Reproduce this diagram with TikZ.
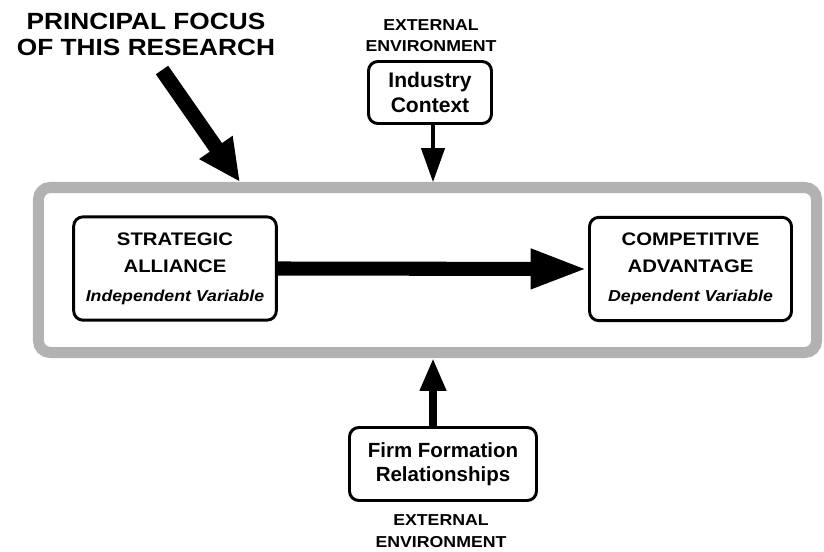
\documentclass[tikz,border=0pt]{standalone}
\usepackage{fontspec}
\setmainfont{Liberation Sans}
\newfontfamily\widefont[FakeStretch=1.12]{Liberation Sans}
\usetikzlibrary{arrows.meta, calc}

\begin{document}
\begin{tikzpicture}[x=0.03cm, y=-0.03cm,
  varbox/.style={draw, line width=2.5pt, rounded corners=8pt, align=center,
    minimum width=6.08cm, minimum height=3.1cm,
    font=\widefont\bfseries\fontsize{15.5}{23}\selectfont},
  envbox/.style={draw, line width=2.5pt, rounded corners=8pt, align=center,
    font=\bfseries\fontsize{18}{21}\selectfont},
  envlabel/.style={align=center, font=\widefont\bfseries\fontsize{13.5}{18}\selectfont},
  bigarrow/.style={line width=12pt, -{Triangle[length=49pt, width=31pt]}}]
\useasboundingbox (0,0) rectangle (824,551);

% Research focus frame
\node[draw=gray!60, line width=9.4pt, rounded corners=10pt,
  minimum width=23.34cm, minimum height=4.95cm] (frame) at (427.5,270) {};

% Variables
\node[varbox] (strategic) at (175,268.5)
  {STRATEGIC\\ALLIANCE\\[2pt]{\fontsize{13.5}{16}\selectfont\itshape Independent Variable}};
\node[varbox, minimum width=6.06cm] (competitive) at (690.5,269)
  {COMPETITIVE\\ADVANTAGE\\[2pt]{\fontsize{13.5}{16}\selectfont\itshape Dependent Variable}};
\draw[bigarrow] (strategic.east) -- (competitive.west);

% Industry context (top)
\node[envlabel] (envtop) at (431,35.5) {EXTERNAL\\ENVIRONMENT};
\node[envbox, minimum width=3.69cm, minimum height=1.86cm] (industry) at (430,92.5) {Industry\\Context};
\coordinate (industryfoot) at ($(industry.south)+(3,0)$);
\draw[line width=2.6pt, -{Triangle[length=29pt, width=20pt]}] (industryfoot) -- (industryfoot |- frame.north);

% Firm formation (bottom)
\node[envbox, minimum width=5.61cm, minimum height=2.19cm, font=\bfseries\fontsize{17.5}{21}\selectfont]
  (firm) at (443,464) {Firm Formation\\Relationships};
\node[envlabel, font=\widefont\bfseries\fontsize{13.5}{19}\selectfont] (envbottom) at (441,531) {EXTERNAL\\ENVIRONMENT};
\coordinate (firmtop) at ($(firm.north)+(-10,0)$);
\draw[line width=6.8pt, -{Triangle[length=28pt, width=21pt]}] (firmtop) -- (firmtop |- frame.south);

% Principal focus
\node[align=center, font=\widefont\bfseries\fontsize{20}{22}\selectfont] (focus) at (146,34.5)
  {PRINCIPAL FOCUS\\OF THIS RESEARCH};
\coordinate (focustail) at (162,70);
\coordinate (focustip) at ($(frame.north west)+(207,0)$);
\draw[line width=12.8pt, -{Triangle[length=36pt, width=32pt]}] (focustail) -- (focustip);
\end{tikzpicture}
\end{document}
